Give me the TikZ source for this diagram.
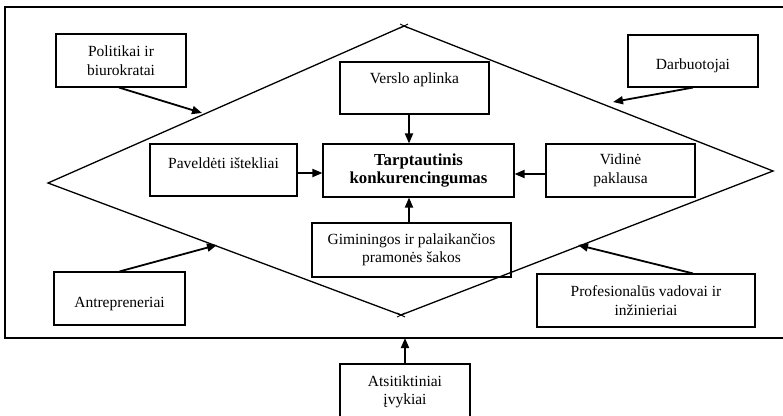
\documentclass[tikz,border=0pt]{standalone}
\usepackage{fontspec}
\setmainfont{Liberation Serif}
\usetikzlibrary{arrows.meta,calc}
\tikzset{
  box/.style={draw, line width=1.1pt, inner sep=0pt, align=center},
  txt/.style={inner sep=0pt, align=center},
  arr/.style={line width=1.8pt, -{Triangle[length=10pt,width=8pt]}},
  edge/.style={line width=1.3pt},
}
\begin{document}
\begin{tikzpicture}[x=1pt,y=-1pt,font=\fontsize{15.5}{18.5}\selectfont]
\useasboundingbox (0,0) rectangle (783,415);
% outer frame (right side beyond the picture)
\draw[line width=1.1pt] (790,7) -- (5,7) -- (5,338) -- (790,338);
% diamond
\coordinate (L) at (48,183);
\coordinate (T) at (404,26);
\coordinate (R) at (773,171);
\coordinate (B) at (401,315);
\draw[edge] (L) -- (T) -- (R) -- (B) -- cycle;
\draw[line width=0.9pt] ($(T)+(-4,-2)$) -- ($(T)+(4,2)$) ($(T)+(-4,2)$) -- ($(T)+(4,-2)$);
\draw[line width=0.9pt] ($(B)+(-4,-2)$) -- ($(B)+(4,2)$) ($(B)+(-4,2)$) -- ($(B)+(4,-2)$);
% boxes
\node[box, minimum width=130pt, minimum height=53pt] (pol) at (121,60.5) {Politikai ir\\biurokratai};
\node[box, minimum width=149pt, minimum height=52pt] (ver) at (414.5,88) {};
\node[txt] (vert) at (414.5,80) {Verslo aplinka};
\node[box, minimum width=130pt, minimum height=52pt] (darb) at (693,61) {};
\node[txt] (darbt) at (693,66) {Darbuotojai};
\node[box, minimum width=147pt, minimum height=52pt] (pav) at (223.5,170) {};
\node[txt] (pavt) at (223.5,163) {Paveldėti ištekliai};
\node[box, minimum width=191pt, minimum height=53pt, font=\fontsize{16.8}{18.5}\selectfont\bfseries] (tar) at (418.5,170.5) {Tarptautinis\\konkurencingumas};
\node[box, minimum width=149pt, minimum height=53pt] (vid) at (620.5,170.5) {Vidinė\\paklausa};
\node[box, minimum width=199pt, minimum height=54pt] (gim) at (411.5,250) {Giminingos ir palaikančios\\pramonės šakos};
\node[box, minimum width=131pt, minimum height=53pt] (ant) at (119.5,298.5) {};
\node[txt] (antt) at (119.5,304) {Antrepreneriai};
\node[box, minimum width=218pt, minimum height=53pt] (prof) at (646,300.5) {Profesionalūs vadovai ir\\inžinieriai};
\node[box, minimum width=130pt, minimum height=56pt] (ats) at (405,392) {Atsitiktiniai\\įvykiai};
% connector end points on the diamond / frame
\coordinate (pt1) at (202,113);
\coordinate (pt2) at (613,102);
\coordinate (pt3) at (217,245);
\coordinate (pt4) at (578,245);
% arrows
\draw[arr] ([xshift=-2pt]pol.south) -- (pt1);
\draw[arr] (darb.south) -- (pt2);
\draw[arr] (ant.north) -- (pt3);
\draw[arr] ([xshift=47pt]prof.north) -- (pt4);
\draw[arr] ([xshift=-5.5pt]ver.south) -- ([xshift=-5.5pt]ver.south |- tar.north);
\draw[arr] ([xshift=-2.5pt]gim.north) -- ([xshift=-2.5pt]gim.north |- tar.south);
\draw[arr] ([yshift=-3pt]pav.east) -- ([yshift=-3pt]pav.east -| tar.west);
\draw[arr] ([yshift=-3.5pt]vid.west) -- ([yshift=-3.5pt]vid.west -| tar.east);
\draw[arr] (ats.north) -- (ats.north |- 0,338);
\end{tikzpicture}
\end{document}
